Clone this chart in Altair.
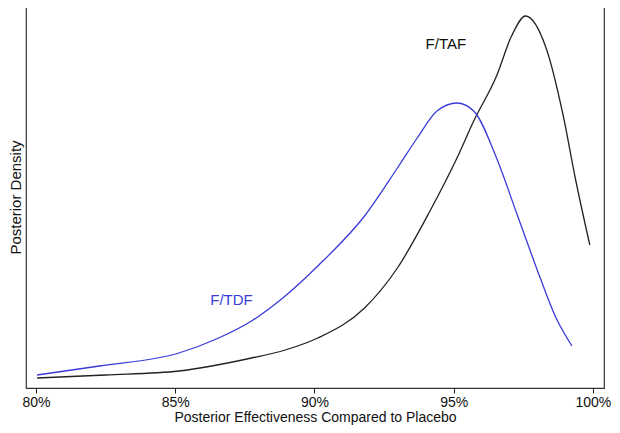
import altair as alt
import pandas as pd

# F/TAF posterior density (arbitrary units)
taf_x = [80.04, 82.5, 85.13, 87.74, 88.95, 90.12, 91.8, 92.98, 94.15, 95.12, 95.72, 96.54, 97.08, 97.58, 98.32, 98.93, 99.39, 99.89]
taf_y = [10, 13, 17, 30, 38, 50, 80, 120, 177, 230, 267, 312, 352, 372, 340, 273, 207, 143]

# F/TDF posterior density (arbitrary units)
tdf_x = [80.04, 82.28, 85.13, 86.56, 87.74, 88.95, 90.12, 91.8, 92.98, 93.69, 94.4, 95.12, 95.72, 96.54, 97.26, 98.07, 98.68, 99.25]
tdf_y = [13, 22, 35, 50, 67, 92, 122, 172, 220, 250, 277, 285, 277, 230, 175, 113, 70, 42]

label_text = ["F/TAF", "F/TDF"]
label_x = [94.72, 87.02]
label_y = [344, 88]
label_color = ["#111111", "#3b3bd9"]

tick_vals = [80, 85, 90, 95, 100]

taf = pd.DataFrame({"x": taf_x, "y": taf_y, "s": "F/TAF"})
tdf = pd.DataFrame({"x": tdf_x, "y": tdf_y, "s": "F/TDF"})
labels = pd.DataFrame({"x": label_x, "y": label_y, "t": label_text, "c": label_color})

FONT = "Liberation Sans"

xs = alt.Scale(domain=[79.64, 100.4], nice=False, zero=False)
ys = alt.Scale(domain=[0, 382], nice=False, zero=True)

xenc = alt.X("x:Q", scale=xs, axis=alt.Axis(
    values=tick_vals, labelExpr="datum.value + '%'", title="Posterior Effectiveness Compared to Placebo",
    grid=False, domain=False, tickColor="#222", tickSize=5, labelFontSize=14, labelColor="#111",
    labelFont=FONT, titleFont=FONT, titleFontSize=14, titleFontWeight="normal", titleColor="#111",
    labelPadding=2, titlePadding=1))
yenc = alt.Y("y:Q", scale=ys, axis=alt.Axis(
    title="Posterior Density", labels=False, ticks=False, grid=False, domain=False,
    titleFont=FONT, titleFontSize=15, titleFontWeight="normal", titleColor="#111", titlePadding=3))

l1 = alt.Chart(taf).mark_line(color="#222222", strokeWidth=1.3, interpolate="monotone").encode(x=xenc, y=yenc)
l2 = alt.Chart(tdf).mark_line(color="#3b3bd9", strokeWidth=1.3, interpolate="monotone").encode(x="x:Q", y="y:Q")
txt = alt.Chart(labels).mark_text(font=FONT, fontSize=15).encode(
    x="x:Q", y="y:Q", text="t:N", color=alt.Color("c:N", scale=None))

chart = alt.layer(l1, l2, txt).properties(
    width=578, height=382,
    autosize=alt.AutoSizeParams(type="none"),
    padding={"left": 18, "top": -2, "right": 8, "bottom": 37},
).configure_view(stroke="#333333", strokeWidth=1.2)

chart.save("out.html", embed_options={"renderer": "svg", "actions": False})
